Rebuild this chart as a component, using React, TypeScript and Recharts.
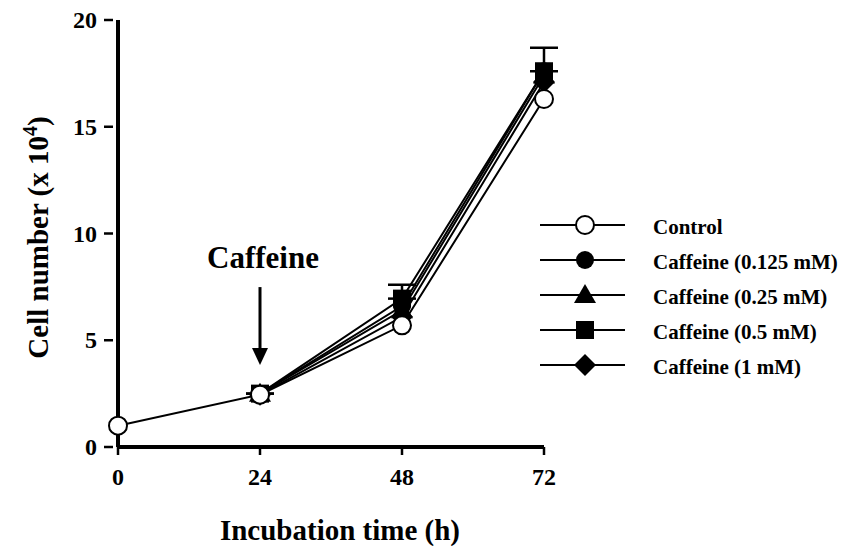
import { LineChart, Line, XAxis, YAxis, ErrorBar, ReferenceLine, Legend } from "recharts";

const FONT = '"Liberation Serif", "Times New Roman", serif';

const hours = [0, 24, 48, 72];
const control = [1.0, 2.45, 5.7, 16.3];
const caffeine0125 = [null, 2.5, 6.6, 17.6];
const caffeine025 = [null, 2.5, 6.4, 17.4];
const caffeine05 = [null, 2.5, 6.95, 17.6];
// [below, above]; the lower halves are hidden behind the markers
const caffeine05Err = [null, [0, 0], [0, 0.65], [0, 1.1]];
const caffeine1 = [null, 2.45, 6.1, 17.1];

const xTicks = [0, 24, 48, 72];
const yTicks = [0, 5, 10, 15, 20];

const legendNames = [
  "Control",
  "Caffeine (0.125 mM)",
  "Caffeine (0.25 mM)",
  "Caffeine (0.5 mM)",
  "Caffeine (1 mM)",
];

const data = hours.map((h, i) => ({
  h,
  control: control[i],
  c0125: caffeine0125[i],
  c025: caffeine025[i],
  c05: caffeine05[i],
  c05err: caffeine05Err[i],
  c1: caffeine1[i],
}));

// marker shapes, same order as legendNames
const markers = [
  (cx: number, cy: number) => <circle cx={cx} cy={cy} r={9} fill="#fff" stroke="#000" strokeWidth={2} />,
  (cx: number, cy: number) => <circle cx={cx} cy={cy} r={9} fill="#000" />,
  (cx: number, cy: number) => (
    <polygon points={`${cx},${cy - 11} ${cx - 11},${cy + 8} ${cx + 11},${cy + 8}`} fill="#000" />
  ),
  (cx: number, cy: number) => <rect x={cx - 9} y={cy - 9} width={18} height={18} fill="#000" />,
  (cx: number, cy: number) => (
    <polygon points={`${cx},${cy - 11} ${cx + 11},${cy} ${cx},${cy + 11} ${cx - 11},${cy}`} fill="#000" />
  ),
];

const makeDot = (idx: number) => (p: any) => {
  if (p.cx == null || p.cy == null || p.value == null) return <g key={p.index} />;
  return <g key={p.index}>{markers[idx](p.cx, p.cy)}</g>;
};

const YTick = ({ x, y, payload }: any) => (
  <g>
    <line x1={x - 14} x2={x - 5} y1={y} y2={y} stroke="#000" strokeWidth={2.5} />
    <text x={x - 21} y={y} dy={8} textAnchor="end" fontFamily={FONT} fontWeight="bold" fontSize={24} fill="#000">
      {payload.value}
    </text>
  </g>
);

const XTick = ({ x, y, payload }: any) => (
  <g>
    <line x1={x} x2={x} y1={y} y2={y + 8} stroke="#000" strokeWidth={2.5} />
    <text x={x} y={y + 38} textAnchor="middle" fontFamily={FONT} fontWeight="bold" fontSize={24} fill="#000">
      {payload.value}
    </text>
  </g>
);

const YLabel = ({ viewBox }: any) => {
  const cx = viewBox.x + viewBox.width - 80;
  const cy = viewBox.y + viewBox.height / 2 + 4;
  return (
    <text
      x={cx}
      y={cy}
      transform={`rotate(-90 ${cx} ${cy})`}
      textAnchor="middle"
      fontFamily={FONT}
      fontWeight="bold"
      fontSize={29}
      fill="#000"
      dy={10}
    >
      Cell number (x 10
      <tspan dy={-11} fontSize={20}>4</tspan>
      <tspan dy={11}>)</tspan>
    </text>
  );
};

const XLabel = ({ viewBox }: any) => (
  <text
    x={viewBox.x + viewBox.width / 2 + 9}
    y={viewBox.y + 93}
    textAnchor="middle"
    fontFamily={FONT}
    fontWeight="bold"
    fontSize={29}
    fill="#000"
  >
    Incubation time (h)
  </text>
);

const CaffeineArrow = ({ x1, y1, x2, y2 }: any) => (
  <g>
    <line x1={x1} y1={y1} x2={x2} y2={y2 - 14} stroke="#000" strokeWidth={3} />
    <polygon points={`${x2 - 8},${y2 - 17} ${x2 + 8},${y2 - 17} ${x2},${y2}`} fill="#000" />
    <text x={x1 + 3} y={y1 - 19} textAnchor="middle" fontFamily={FONT} fontWeight="bold" fontSize={31} fill="#000">
      Caffeine
    </text>
  </g>
);

const LegendBox = () => (
  <svg width={300} height={180}>
    {legendNames.map((name, i) => {
      const cy = 15 + i * 35;
      return (
        <g key={name}>
          <line x1={0} x2={85} y1={cy} y2={cy} stroke="#000" strokeWidth={2} />
          {markers[i](45, cy)}
          <text x={113} y={cy} dy={9} fontFamily={FONT} fontWeight="bold" fontSize={21} fill="#000">
            {name}
          </text>
        </g>
      );
    })}
  </svg>
);

export default function App() {
  return (
    <div style={{ position: "absolute", left: 0, top: 0, background: "#fff" }}>
      <LineChart width={844} height={546} data={data} margin={{ top: 20, right: 300, bottom: 59, left: 58 }}>
        <XAxis
          dataKey="h"
          type="number"
          domain={[0, 72]}
          ticks={xTicks}
          height={40}
          tickSize={0}
          tickMargin={0}
          tickLine={false}
          tick={<XTick />}
          axisLine={{ stroke: "#000", strokeWidth: 4 }}
          label={<XLabel />}
        />
        <YAxis
          type="number"
          domain={[0, 20]}
          ticks={yTicks}
          width={60}
          tickSize={0}
          tickMargin={0}
          tickLine={false}
          tick={<YTick />}
          axisLine={{ stroke: "#000", strokeWidth: 4 }}
          label={<YLabel />}
        />
        <ReferenceLine
          segment={[{ x: 24, y: 7.49 }, { x: 24, y: 3.84 }]}
          ifOverflow="visible"
          shape={CaffeineArrow}
        />
        <Line dataKey="c1" stroke="#000" strokeWidth={2} dot={makeDot(4)} activeDot={false} isAnimationActive={false} />
        <Line dataKey="c025" stroke="#000" strokeWidth={2} dot={makeDot(2)} activeDot={false} isAnimationActive={false} />
        <Line dataKey="c0125" stroke="#000" strokeWidth={2} dot={makeDot(1)} activeDot={false} isAnimationActive={false} />
        <Line dataKey="c05" stroke="#000" strokeWidth={2} dot={makeDot(3)} activeDot={false} isAnimationActive={false}>
          <ErrorBar dataKey="c05err" direction="y" width={14} strokeWidth={2.5} stroke="#000" />
        </Line>
        <Line dataKey="control" stroke="#000" strokeWidth={2} dot={makeDot(0)} activeDot={false} isAnimationActive={false} />
        <Legend
          layout="vertical"
          align="center"
          verticalAlign="middle"
          content={<LegendBox />}
          wrapperStyle={{ left: 540, top: 210, width: 300, height: 180 }}
        />
      </LineChart>
    </div>
  );
}
